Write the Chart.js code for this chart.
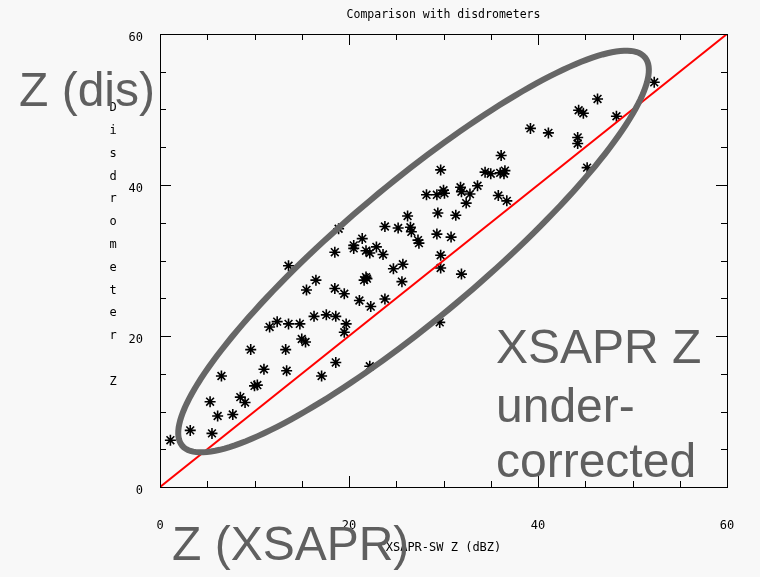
<!DOCTYPE html>
<html>
<head>
<meta charset="utf-8">
<script src="https://cdn.jsdelivr.net/npm/chart.js@4/dist/chart.umd.min.js"></script>
<style>
    html, body { margin: 0; padding: 0; background: #f8f8f8; }
    #wrap { width: 760px; height: 577px; }
</style>
</head>
<body>
<div id="wrap"><canvas id="chart" width="760" height="577"></canvas></div>
<script>
// XSAPR-SW reflectivity vs. disdrometer reflectivity (dBZ)
const xsaprZ = [
    1.1, 3.2, 5.5, 6.1, 7.7, 5.3, 8.5, 9.0, 6.5, 10.0,
    10.3, 11.0, 13.4, 9.6, 13.3, 11.6, 12.4, 13.6, 14.8, 15.0,
    15.4, 17.1, 18.6, 22.2, 16.3, 17.6, 18.6, 19.7, 19.5, 15.5,
    16.5, 18.5, 19.5, 21.1, 22.3, 23.8, 21.6, 21.8, 21.9, 13.6,
    18.5, 20.5, 20.5, 21.4, 21.8, 22.2, 22.9, 23.6, 24.7, 25.7,
    25.6, 23.8, 25.2, 26.2, 26.5, 26.6, 18.9, 29.7, 29.7, 31.9,
    29.3, 30.8, 27.3, 27.4, 29.4, 31.3, 32.4, 28.2, 29.3, 30.0,
    30.1, 31.8, 31.9, 32.8, 33.6, 29.7, 34.4, 35.0, 36.0, 36.5,
    36.4, 36.1, 35.8, 36.7, 39.2, 41.1, 44.2, 44.2, 44.3, 44.8,
    46.3, 48.3, 45.2, 52.3, 29.6
];
const disZ = [
    6.2, 7.5, 7.1, 9.4, 9.6, 11.3, 11.9, 11.2, 14.7, 13.4,
    13.5, 15.6, 15.4, 18.2, 18.2, 21.2, 21.9, 21.6, 21.6, 19.6,
    19.2, 14.7, 16.5, 16.0, 22.6, 22.8, 22.6, 21.6, 20.5, 26.1,
    27.4, 26.3, 25.6, 24.7, 23.9, 24.9, 27.4, 27.8, 27.6, 29.3,
    31.1, 32.0, 31.6, 32.9, 31.3, 31.0, 31.8, 30.8, 28.9, 29.5,
    27.2, 34.5, 34.3, 35.9, 34.4, 33.8, 34.2, 29.0, 30.7, 28.2,
    33.5, 33.1, 32.7, 32.3, 36.3, 36.0, 37.6, 38.7, 38.7, 39.3,
    38.9, 39.7, 39.1, 38.8, 39.9, 42.0, 41.7, 41.5, 41.6, 41.9,
    41.5, 43.9, 38.6, 37.9, 47.5, 46.9, 46.3, 45.5, 49.9, 49.5,
    51.4, 49.1, 42.3, 53.6, 21.8
];

// 1:1 reference line
const oneToOneX = [0, 60];
const oneToOneY = [0, 60];

const axisMin = 0;
const axisMax = 60;
const majorStep = 20;
const minorStep = 5;

const yTitleLetters = ['D', 'i', 's', 'd', 'r', 'o', 'm', 'e', 't', 'e', 'r', '', 'Z'];

// highlighted region, in data units: centre and two semi-axis vectors
const ellipseCenter = [26.83, 31.19];
const ellipseMajor = [24.48, 25.72];
const ellipseMinor = [4.56, -6.80];

const MONO = '"DejaVu Sans Mono", monospace';
const SANS = '"Liberation Sans", Arial, sans-serif';

const points = xsaprZ.map((x, i) => ({ x: x, y: disZ[i] }));
const refLine = oneToOneX.map((x, i) => ({ x: x, y: oneToOneY[i] }));

const framePlugin = {
    id: 'frame',
    beforeDraw(chart) {
        const ctx = chart.ctx;
        ctx.save();
        ctx.fillStyle = '#f8f8f8';
        ctx.fillRect(0, 0, chart.width, chart.height);
        ctx.restore();
    },
    afterDatasetsDraw(chart) {
        const {ctx, chartArea: a, scales: {x, y}} = chart;
        ctx.save();
        ctx.strokeStyle = '#000';
        ctx.lineWidth = 1;
        ctx.strokeRect(Math.round(a.left) + 0.5, Math.round(a.top) + 0.5,
            Math.round(a.right - a.left), Math.round(a.bottom - a.top));

        // inward ticks on all four sides
        ctx.beginPath();
        for (let v = axisMin; v <= axisMax; v += minorStep) {
            const len = (v % majorStep === 0) ? 11 : 6;
            const px = Math.round(x.getPixelForValue(v)) + 0.5;
            const py = Math.round(y.getPixelForValue(v)) + 0.5;
            ctx.moveTo(px, a.bottom); ctx.lineTo(px, a.bottom - len);
            ctx.moveTo(px, a.top); ctx.lineTo(px, a.top + len);
            ctx.moveTo(a.left, py); ctx.lineTo(a.left + len, py);
            ctx.moveTo(a.right, py); ctx.lineTo(a.right - len, py);
        }
        ctx.stroke();

        // stacked y axis title
        ctx.fillStyle = '#000';
        ctx.font = '12px ' + MONO;
        ctx.textAlign = 'center';
        ctx.textBaseline = 'middle';
        yTitleLetters.forEach((ch, i) => {
            ctx.fillText(ch, a.left - 47, a.top + 74 + i * 22.8);
        });
        ctx.restore();
    }
};

const annotationPlugin = {
    id: 'annotations',
    afterDraw(chart) {
        const {ctx, scales: {x, y}} = chart;
        ctx.save();

        ctx.beginPath();
        const n = 180;
        for (let i = 0; i <= n; i++) {
            const t = i / n * Math.PI * 2;
            const dx = ellipseCenter[0] + ellipseMajor[0] * Math.cos(t) + ellipseMinor[0] * Math.sin(t);
            const dy = ellipseCenter[1] + ellipseMajor[1] * Math.cos(t) + ellipseMinor[1] * Math.sin(t);
            const px = x.getPixelForValue(dx);
            const py = y.getPixelForValue(dy);
            if (i === 0) ctx.moveTo(px, py); else ctx.lineTo(px, py);
        }
        ctx.closePath();
        ctx.strokeStyle = '#666666';
        ctx.lineWidth = 6;
        ctx.stroke();

        ctx.fillStyle = '#5f5f5f';
        ctx.font = '48px ' + SANS;
        ctx.textAlign = 'left';
        ctx.textBaseline = 'alphabetic';
        ctx.fillText('Z (dis)', 19, 106);
        ctx.fillText('Z (XSAPR)', 172, 560);
        ctx.fillText('XSAPR Z', 496, 363);
        ctx.fillText('under-', 496, 422);
        ctx.fillText('corrected', 496, 477);
        ctx.restore();
    }
};

const tickFont = { family: MONO, size: 12 };

new Chart(document.getElementById('chart'), {
    type: 'scatter',
    data: {
        datasets: [
            {
                type: 'line',
                data: refLine,
                borderColor: '#ff0000',
                borderWidth: 2,
                pointRadius: 0,
                fill: false
            },
            {
                data: points,
                pointStyle: 'star',
                pointRadius: 5.5,
                borderColor: '#000',
                backgroundColor: '#000',
                borderWidth: 1.6
            }
        ]
    },
    options: {
        responsive: false,
        animation: false,
        layout: { padding: { right: 33 } },
        plugins: {
            legend: { display: false },
            tooltip: { enabled: false }
        },
        scales: {
            x: {
                type: 'linear',
                position: 'bottom',
                min: axisMin,
                max: axisMax,
                grid: { display: false },
                border: { display: false },
                ticks: { stepSize: majorStep, padding: 24, color: '#000', font: tickFont, maxRotation: 0 },
                title: {
                    display: true,
                    text: 'XSAPR-SW Z (dBZ)',
                    color: '#000',
                    font: tickFont,
                    padding: { top: 0, bottom: 22 }
                },
                afterFit: (scale) => { scale.height = 90; }
            },
            top: {
                type: 'linear',
                position: 'top',
                min: axisMin,
                max: axisMax,
                grid: { display: false },
                border: { display: false },
                ticks: { display: false },
                title: {
                    display: true,
                    text: 'Comparison with disdrometers',
                    color: '#000',
                    font: { family: MONO, size: 11.5 },
                    padding: { top: 8, bottom: 0 }
                },
                afterFit: (scale) => { scale.height = 34; }
            },
            y: {
                type: 'linear',
                position: 'left',
                min: axisMin,
                max: axisMax,
                grid: { display: false },
                border: { display: false },
                ticks: { stepSize: majorStep, padding: 9, color: '#000', font: tickFont, labelOffset: 4 },
                afterFit: (scale) => { scale.height = scale.height; scale.width = 160; }
            }
        }
    },
    plugins: [framePlugin, annotationPlugin]
});
</script>
</body>
</html>
